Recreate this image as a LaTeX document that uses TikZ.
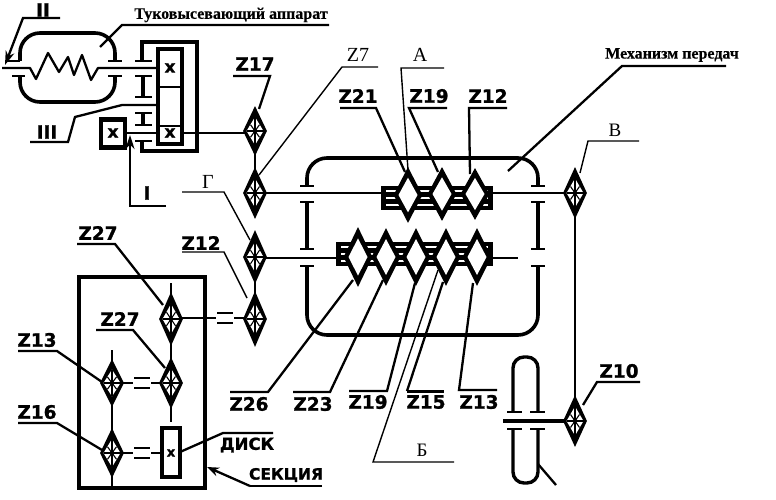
\documentclass[tikz,border=0pt]{standalone}
\usepackage{fontspec}
\setmainfont{Liberation Serif}
\newfontfamily\zfont{DejaVu Sans}[BoldFeatures={FakeBold=1.2}]
\newfontfamily\tfont{Liberation Serif}[BoldFeatures={FakeBold=0.3}]
\usetikzlibrary{shapes.geometric,arrows.meta}
\tikzset{
  x=1pt,y=-1pt,
  zlabel/.style={font=\zfont\bfseries\fontsize{18.5}{18}\selectfont,inner sep=0pt},
  slabel/.style={font=\fontsize{20}{20}\selectfont,inner sep=0pt},
  tlabel/.style={font=\tfont\bfseries\fontsize{16}{16}\selectfont,inner sep=0pt},
  shaftline/.style={line width=2.4pt},
  lead/.style={line width=2.3pt},
  thin lead/.style={line width=1.4pt},
  housing/.style={line width=3.6pt,rounded corners=20pt},
  capbar/.style={line width=2.8pt},
  blockbox/.style={rectangle,fill=black,inner sep=0pt},
  xbox/.style={rectangle,draw,line width=4.5pt,inner sep=0pt,fill=white},
  xmark/.style={font=\zfont\bfseries\fontsize{17}{17}\selectfont,inner sep=0pt},
}
% small gear: name, x, y, half height
\newcommand{\smallgear}[4]{%
  \node[diamond,fill=black,inner sep=0pt,minimum width=24pt,minimum height=#4*2pt] (#1) at (#2,#3) {};
  \fill[white] (#2-8.5,#3) -- (#2,#3-#4*0.56) -- (#2+8.5,#3) -- (#2,#3+#4*0.56) -- cycle;
  \draw[line width=1.6pt] (#2,#3-#4*0.56) -- (#2,#3+#4*0.56) (#2-8.5,#3) -- (#2+8.5,#3);
  \draw[line width=1.1pt] (#2-4.5,#3-#4*0.25) -- (#2+4.5,#3+#4*0.25) (#2+4.5,#3-#4*0.25) -- (#2-4.5,#3+#4*0.25);
  \fill (#2,#3) circle (2.2);
}
% large gear: name, x, y, half height
\newcommand{\biggear}[4]{%
  \node[diamond,fill=black,inner sep=0pt,minimum width=29pt,minimum height=#4*2pt] (#1) at (#2,#3) {};
  \fill[white] (#2-9.5,#3) -- (#2,#3-#4*0.62) -- (#2+9.5,#3) -- (#2,#3+#4*0.62) -- cycle;
}
% stripes of a splined hub
\newcommand{\hubstripes}[3]{%
  \foreach \yy in {#3} \fill[white] (#1,\yy-1.3) rectangle (#2,\yy+1.3);
}
\begin{document}
\begin{tikzpicture}
\useasboundingbox (0,0) rectangle (776,500);
\fill[white] (0,0) rectangle (776,500);

% ---------- housings ----------
\draw[housing] (20,61) -- (20,33) -- (115,33) -- (115,61);
\draw[housing] (20,76) -- (20,102) -- (115,102) -- (115,76);
\draw[line width=4pt] (142,61) -- (142,42) -- (197,42) -- (197,151) -- (142,151) -- (142,141);
\draw[housing] (307,186) -- (307,158) -- (538,158) -- (538,186);
\draw[housing] (307,266) -- (307,335) -- (538,335) -- (538,266);
\draw[line width=3.4pt,rounded corners=11pt] (513,412) -- (513,357) -- (538,357) -- (538,412);
\draw[line width=3.4pt,rounded corners=11pt] (513,429) -- (513,483) -- (538,483) -- (538,429);
\draw[line width=4.4pt] (79,277) rectangle (205,488);

% ---------- bearing caps ----------
\foreach \xa/\xb/\yy in {5/20/61,12/25/76,108/122/61,108/122/76,
   135/152/61,135/152/76,135/152/97,135/152/113,135/152/125,135/152/141,
   300/314/186,300/314/202,300/314/249,300/314/266,
   531/545/186,531/545/202,531/545/249,531/545/266,
   507/522/412,530/545/412,507/522/429,530/545/429}
  \draw[capbar] (\xa,\yy) -- (\xb,\yy);
\foreach \xx/\ya/\yb in {143/76/97,143/113/125,307/202/249,538/202/249}
  \draw[line width=3.4pt] (\xx,\ya) -- (\xx,\yb);

% ---------- boxes ----------
\node[xbox,minimum width=24pt,minimum height=95pt] (tall) at (170,96.5) {};
\draw[line width=2.6pt] (158,87) -- (182,87) (158,126) -- (182,126);
\node[xmark] (xa) at (170,68) {x};
\node[xmark] (xb) at (170,133) {x};
\node[xbox,minimum width=24pt,minimum height=28pt] (xleft) at (113,133.5) {};
\node[xmark] (xc) at (113,133) {x};
\node[xbox,line width=3.4pt,minimum width=18pt,minimum height=49pt] (disc) at (171,452.5) {};
\node[xmark,font=\zfont\bfseries\fontsize{13}{13}\selectfont] (xd) at (171,453) {x};

% ---------- shafts ----------
\coordinate (sh0) at (2,68);
\draw[line width=2.3pt,line join=round] (sh0) -- (30,68) -- (36,79) -- (48,53) -- (59,72) -- (68,57) -- (74,75) -- (82,55) -- (91,80) -- (98,68) -- (158,68);
\coordinate (sh1) at (125,133);
\draw[shaftline] (sh1) -- (158,133);
\draw[shaftline] (182,133) -- (250,133);
\draw[shaftline] (255,150) -- (255,172);
\draw[shaftline] (255,193) -- (381,193);
\draw[shaftline] (493,193) -- (575,193);
\draw[shaftline] (255,258) -- (336,258);
\draw[shaftline] (493,258) -- (518,258);
\draw[shaftline] (255,275) -- (255,300);
\draw[shaftline] (575,200) -- (575,405);
\draw[line width=3.4pt] (503,421) -- (570,421);
\draw[shaftline] (171,283) -- (171,422);
\draw[shaftline] (112,350) -- (112,487);
\draw[shaftline] (171,318) -- (255,318);
\draw[shaftline] (112,383) -- (171,383);
\draw[shaftline] (112,453) -- (162,453);

% = signs
\foreach \xx/\yy in {225/318,142/383,142/453}{
  \fill[white] (\xx-9,\yy-3) rectangle (\xx+9,\yy+3);
  \draw[line width=2.6pt] (\xx-8,\yy-5) -- (\xx+8,\yy-5) (\xx-8,\yy+5) -- (\xx+8,\yy+5);
}

% ---------- hubs ----------
\node[blockbox,minimum width=112pt,minimum height=24pt] (hubup) at (437,198) {};
\hubstripes{386}{488}{191,198,205}
\node[blockbox,minimum width=157pt,minimum height=24pt] (hublow) at (414.5,254) {};
\hubstripes{341}{488}{247,254,261}

% ---------- gears ----------
\smallgear{g17}{255}{131}{25}
\smallgear{g7}{255}{193}{26}
\smallgear{gG}{255}{257}{27}
\smallgear{g12}{255}{319}{28}
\smallgear{gb}{575}{193}{26}
\smallgear{g10}{575}{421}{26}
\smallgear{g27a}{171}{319}{27}
\smallgear{g27b}{171}{383}{26}
\smallgear{g13a}{112}{383}{24}
\smallgear{g16}{112}{453}{25}
\biggear{u21}{408}{195}{28}
\biggear{u19}{442}{194}{27}
\biggear{u12}{475}{194}{26}
\biggear{l26}{358}{257}{30}
\biggear{l23}{386}{257}{29}
\biggear{l19}{416}{257}{29}
\biggear{l15}{446}{257}{29}
\biggear{l13}{477}{257}{29}

% ---------- labels ----------
\node[zlabel] (tz17) at (255,64) {Z17};
\node[zlabel] (tz21) at (358,96) {Z21};
\node[zlabel] (tz19) at (429,96) {Z19};
\node[zlabel] (tz12) at (488,96) {Z12};
\node[zlabel] (tz27a) at (98,233) {Z27};
\node[zlabel] (tz12b) at (201,243) {Z12};
\node[zlabel] (tz27b) at (120,319) {Z27};
\node[zlabel] (tz13b) at (37,340) {Z13};
\node[zlabel] (tz16) at (37,412) {Z16};
\node[zlabel] (tz26) at (249,404) {Z26};
\node[zlabel] (tz23) at (313,404) {Z23};
\node[zlabel] (tz19b) at (368,402) {Z19};
\node[zlabel] (tz15) at (426,402) {Z15};
\node[zlabel] (tz13) at (479,402) {Z13};
\node[zlabel] (tz10) at (619,371) {Z10};
\node[zlabel,font=\zfont\bfseries\fontsize{16.5}{16}\selectfont] (tdisk) at (247,445) {ДИСК};
\node[zlabel,font=\zfont\bfseries\fontsize{15.5}{15}\selectfont] (tsec) at (286,475) {СЕКЦИЯ};
\node[zlabel] (tII) at (43,10) {II};
\node[zlabel] (tIII) at (47,132) {III};
\node[zlabel] (tI) at (147,193) {I};
\node[slabel] (tZ7) at (358,55) {Z7};
\node[slabel] (tA) at (420,55) {А};
\node[slabel] (tG) at (208,182) {Г};
\node[slabel,font=\fontsize{19}{19}\selectfont] (tV) at (615,130) {В};
\node[slabel,font=\fontsize{19}{19}\selectfont] (tB) at (422,450) {Б};
\node[tlabel] (tT) at (231,15) {Туковысевающий аппарат};
\node[tlabel] (tM) at (672,55) {Механизм передач};

% ---------- leaders ----------
\draw[lead] (233,76) -- (270,76) -- ([shift={(4,-22)}]g17.center);
\draw[thin lead] (378,67) -- (342,67) -- ([shift={(4,-18)}]g7.center);
\draw[thin lead] (444,68) -- (401,68) -- ([shift={(0,-25)}]u21.center);
\draw[lead] (340,108) -- (376,108) -- ([shift={(-3,-23)}]u21.center);
\draw[lead] (447,108) -- (409,108) -- ([shift={(-4,-22)}]u19.center);
\draw[lead] (507,108) -- (469,108) -- ([shift={(-5,-20)}]u12.center);
\draw[lead] (77,244) -- (115,244) -- ([shift={(-8,-14)}]g27a.center);
\draw[thin lead] (182,252) -- (224,252) -- ([shift={(-8,-21)}]g12.center);
\draw[lead] (96,330) -- (133,330) -- ([shift={(-6,-15)}]g27b.center);
\draw[lead] (18,351) -- (57,351) -- ([shift={(-10,-1)}]g13a.center);
\draw[lead] (18,423) -- (57,423) -- ([shift={(-10,-3)}]g16.center);
\draw[lead] (230,392) -- (268,392) -- ([shift={(-5,23)}]l26.center);
\draw[lead] (293,392) -- (330,392) -- ([shift={(-3,23)}]l23.center);
\draw[lead] (349,391) -- (387,391) -- ([shift={(-1,26)}]l19.center);
\draw[line width=3pt] (407,391) -- (444,391);
\draw[lead] (407,391) -- ([shift={(-3,25)}]l15.center);
\draw[lead] (497,390) -- (459,390) -- ([shift={(-4,26)}]l13.center);
\draw[thin lead] (454,462) -- (373,462) -- ([shift={(-8,13)}]l15.center);
\draw[lead] (640,382) -- (597,382) -- ([shift={(8,-16)}]g10.center);
\draw[thin lead] (639,141) -- (588,141) -- ([shift={(5,-20)}]gb.center);
\draw[thin lead] (182,192) -- (224,192) -- ([shift={(-5,-17)}]gG.center);
\draw[lead] (726,66) -- (622,66) -- (508,171);
\draw[lead] (329,25) -- (122,25) -- (100,47);
\draw[lead] (273,433) -- (223,433) -- (180,452);
\draw[lead] (322,486) -- (250,486);
\draw[lead,-{Stealth[length=12pt,width=9pt]}] (250,486) -- (207,467);
\draw[lead,-{Stealth[length=14pt,width=9pt]}] (60,18) -- (23,18) -- (5,65);
\draw[lead] (30,142) -- (68,142) -- (75,117) -- (122,105) -- (158,105);
\draw[lead,-{Stealth[length=14pt,width=9pt]}] (166,206) -- (130,206) -- (130,135);
\draw[lead] (538,464) -- (556,485);
\end{tikzpicture}
\end{document}
